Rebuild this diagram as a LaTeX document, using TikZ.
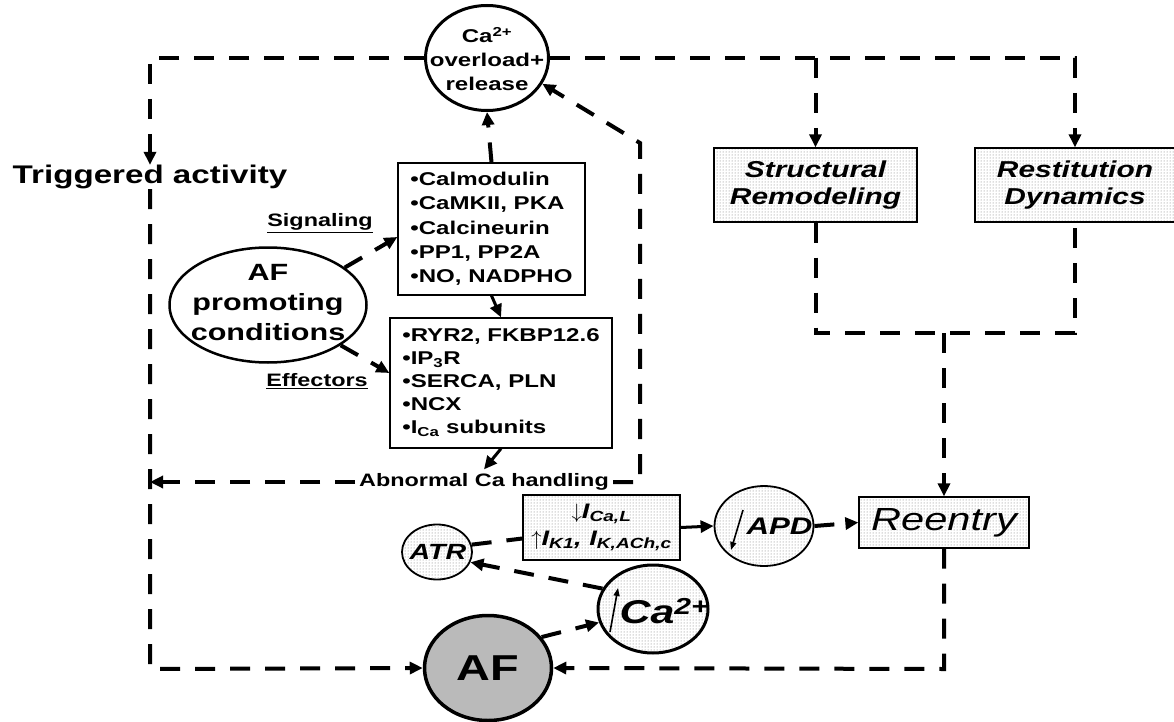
\documentclass[tikz,border=0pt]{standalone}
\usepackage{fontspec}
\setmainfont{Liberation Sans}[FakeStretch=1.3]
\usetikzlibrary{arrows.meta,patterns,shapes.geometric}
\begin{document}
\begin{tikzpicture}[x=1pt,y=-1pt,
  dsh/.style={line width=4pt, dash pattern=on 20pt off 15pt},
  tip/.style={-{Triangle[length=13pt,width=12pt]}},
  solidarrow/.style={line width=3pt,-{Triangle[length=13pt,width=12pt]}},
  dotfill/.style={preaction={fill=white},pattern=dots,pattern color=black!55},
  ell/.style={ellipse,draw,inner sep=0pt},
  box/.style={rectangle,draw,line width=1.3pt,inner sep=0pt},
  thinarrow/.style={line width=1.6pt,-{Triangle[length=8pt,width=6pt]}}
]
\useasboundingbox (0,0) rectangle (1174,722);

% ---- nodes ----
\node[ell,line width=3pt,minimum width=123pt,minimum height=105pt] (ca) at (487,58) {};
\node[align=center,font=\bfseries\fontsize{18.5}{24}\selectfont] (catext) at (487,59) {Ca\textsuperscript{2+}\\overload+\\release};

\node[font=\bfseries\fontsize{25.5}{28}\selectfont,inner sep=0pt] (trig) at (150,177) {Triggered activity};

\node[box,minimum width=187pt,minimum height=132pt,align=left,
      font=\bfseries\fontsize{18.5}{24.3}\selectfont] (sig) at (491.5,229)
  {•Calmodulin\\•CaMKII, PKA\\•Calcineurin\\•PP1, PP2A\\•NO, NADPHO};

\node[box,minimum width=222pt,minimum height=130pt,align=left,
      font=\bfseries\fontsize{18.5}{23}\selectfont] (eff) at (501,383)
  {•RYR2, FKBP12.6\\•IP\textsubscript{3}R\\•SERCA, PLN\\•NCX\\•I\textsubscript{Ca} subunits};

\node[ell,line width=2.5pt,minimum width=197pt,minimum height=115pt] (afp) at (268,305) {};
\node[align=center,font=\bfseries\fontsize{23.5}{30}\selectfont] (afptext) at (268,303) {AF\\promoting\\conditions};

\node[font=\bfseries\fontsize{18}{20}\selectfont] (siglab) at (320,223) {\underline{Signaling}};
\node[font=\bfseries\fontsize{18}{20}\selectfont] (efflab) at (317,381) {\underline{Effectors}};

\node[font=\bfseries\fontsize{18}{20}\selectfont,inner sep=4pt] (abn) at (484,482) {Abnormal Ca handling};

\node[box,dotfill,minimum width=203pt,minimum height=74pt,align=center,
      font=\bfseries\itshape\fontsize{23}{27}\selectfont] (struct) at (815.5,185) {Structural\\Remodeling};
\node[box,dotfill,minimum width=200pt,minimum height=74pt,align=center,
      font=\bfseries\itshape\fontsize{23}{27}\selectfont] (restit) at (1075,185) {Restitution\\Dynamics};

\node[box,dotfill,minimum width=170pt,minimum height=51pt,
      font=\itshape\fontsize{32}{32}\selectfont] (reentry) at (944,522.5) {Reentry};

\node[box,dotfill,minimum width=157pt,minimum height=65pt,align=center,
      font=\bfseries\itshape\fontsize{21}{27}\selectfont] (cur) at (601.5,527.5)
  {$\downarrow$I\textsubscript{Ca,L}\\$\uparrow$I\textsubscript{K1}, I\textsubscript{K,ACh,c}};

\node[ell,dotfill,line width=1.8pt,minimum width=99pt,minimum height=80pt] (apd) at (764,526) {};
\node[font=\bfseries\itshape\fontsize{24}{24}\selectfont,anchor=west] (apdtext) at (743,526) {APD};

\node[ell,dotfill,line width=1.8pt,minimum width=70pt,minimum height=55pt] (atr) at (437,552) {};
\node[font=\bfseries\itshape\fontsize{22}{22}\selectfont] (atrtext) at (438,552) {ATR};

\node[ell,dotfill,line width=3pt,minimum width=110pt,minimum height=88pt] (cai) at (653,609) {};
\node[font=\bfseries\itshape\fontsize{33}{33}\selectfont,anchor=west] (caitext) at (616,611) {Ca\textsuperscript{2+}};

\node[ell,fill=black!27,line width=3.5pt,minimum width=127pt,minimum height=105pt] (af) at (488,668) {};
\node[font=\bfseries\fontsize{36}{36}\selectfont] (aftext) at (488,668) {AF};

% arrows inside APD and Ca2+
\coordinate (apdA) at (743,510);
\coordinate (apdB) at (731,550);
\coordinate (caiA) at (610,632);
\coordinate (caiB) at (618,588);
\draw[thinarrow] (apdA) -- (apdB);
\draw[thinarrow] (caiA) -- (caiB);

% ---- connectors ----
\coordinate (tl) at (150,58);
\coordinate (bl) at (150,669);
\coordinate (tr) at (1075,58);
\coordinate (tm) at (815.5,58);
\coordinate (jl) at (815.5,333);
\coordinate (jr) at (1075,333);
\coordinate (jm) at (944,333);
\coordinate (br) at (944,669);
\coordinate (rc) at (640,482);
\coordinate (rt) at (640,143);

\draw[dsh,tip] (ca.west) -- (tl) -- (trig.north);
\draw[dsh,tip] (trig.south) -- (bl) -- (af.west);
\draw[dsh,tip] (ca.east) -- (tr) -- (restit.north);
\draw[dsh,tip] (tm) -- (struct.north);
\draw[dsh] (struct.south) -- (jl) -- (jr) -- (restit.south);
\draw[dsh,tip] (jm) -- (reentry.north);
\draw[dsh,tip] (reentry.south) -- (br) -- (af.east);

\draw[dsh,tip] (sig.north) -- (ca.south);
\draw[solidarrow] (sig.south) -- (eff.north);
\draw[solidarrow] (eff.south) -- (abn.north);
\draw[dsh,tip] (abn.west) -- (abn.west -| bl);
\draw[dsh,tip] (abn.east) -- (rc) -- (rt) -- (ca.-25);

\draw[dsh,tip] (afp.26) -- ([yshift=-8pt]sig.west);
\draw[dsh,tip] (afp.-29) -- ([yshift=10pt]eff.west);

\draw[solidarrow] (cur.east) -- (apd.west);
\draw[dsh,tip] (apd.east) -- (reentry.west);
\draw[dsh] (atr.12) -- ([yshift=-11pt]cur.west);
\draw[dsh,tip] (cai.158) -- (atr.-17);
\draw[dsh,tip] (af.30) -- (cai.194);
\end{tikzpicture}
\end{document}
